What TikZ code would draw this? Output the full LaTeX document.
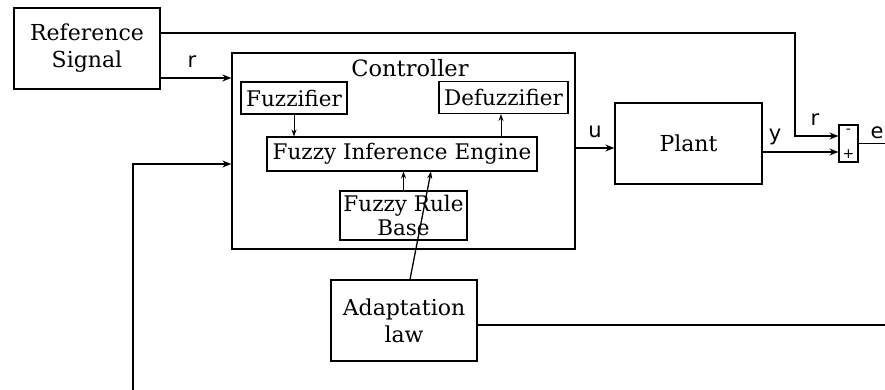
\documentclass[tikz,border=0pt]{standalone}
\usepackage{fontspec}
\setmainfont{DejaVu Serif}
\newfontfamily\lblfont{DejaVu Sans}
\usetikzlibrary{arrows.meta,calc}
\begin{document}
\begin{tikzpicture}[x=1pt,y=-1pt,
  block/.style={draw,line width=1.3pt,inner sep=0pt,align=center,font=\fontsize{22}{27}\selectfont},
  inner/.style={draw,line width=1.1pt,inner sep=0pt,align=center,font=\fontsize{21.5}{24}\selectfont},
  sig/.style={line width=1.3pt,-{Stealth[length=9pt,width=7pt]}},
  isig/.style={line width=1pt,-{Stealth[length=7pt,width=5pt]}},
  wire/.style={line width=1.3pt},
  lbl/.style={font=\lblfont\fontsize{21}{21}\selectfont,inner sep=0pt},
  sgn/.style={font=\lblfont\fontsize{14}{14}\selectfont,inner sep=0pt}]
\useasboundingbox (0,0) rectangle (885,390);

% main blocks
\node[block,minimum width=146pt,minimum height=81pt] (ref) at (87,48.5) {Reference\\Signal};
\node[block,minimum width=343pt,minimum height=196pt] (ctrl) at (403.5,151) {};
\node[font=\fontsize{22.5}{22.5}\selectfont,inner sep=0pt] (ctitle) at (410,68) {Controller};
\node[block,minimum width=147pt,minimum height=81pt] (plant) at (688.5,143.5) {Plant};
\node[block,minimum width=146pt,minimum height=81pt] (adapt) at (404,320.5) {Adaptation\\law};
\node[draw,line width=1.1pt,minimum width=19pt,minimum height=37pt,inner sep=0pt] (sum) at (848.5,143.5) {};
\node[sgn] (minus) at (848.5,131) {-};
\node[sgn] (plus) at (848.5,154) {+};

% controller internals
\node[inner,minimum width=106pt,minimum height=32pt] (fuzz) at (294,98) {Fuzzifier};
\node[inner,minimum width=129pt,minimum height=32pt] (defuzz) at (503.5,97.5) {Defuzzifier};
\node[inner,minimum width=270pt,minimum height=34pt] (fie) at (402,154) {Fuzzy Inference Engine};
\node[inner,minimum width=127pt,minimum height=49pt] (frb) at (403.5,215.5) {Fuzzy Rule\\Base};

% reference path to the comparator
\coordinate (rtop) at ([yshift=15.5pt]ref.east);
\coordinate (rbend) at (795,33);
\coordinate (sumr) at ([yshift=7.5pt]sum.west);
\draw[sig] (rtop) -- (rbend) |- (sumr);

% reference into controller
\coordinate (rin) at ([yshift=-29.5pt]ref.east);
\draw[sig] (rin) -- (rin -| ctrl.west);

% feedback into controller
\coordinate (fb) at (133,390);
\coordinate (fbin) at ([yshift=-13pt]ctrl.west);
\draw[sig] (fb) |- (fbin);

% control signal to plant
\coordinate (uout) at ([yshift=3pt]ctrl.east);
\draw[sig] (uout) -- (uout -| plant.west);

% plant output to comparator
\coordinate (sumy) at ([yshift=-8.5pt]sum.west);
\draw[sig] (sumy -| plant.east) -- (sumy);

% error output
\coordinate (eout) at (885,143.5);
\draw[wire] (sum.east) -- (eout);

% adaptation law output
\coordinate (aout) at ([yshift=-4.5pt]adapt.east);
\coordinate (aend) at (885,325);
\draw[wire] (aout) -- (aend);

% adaptation acting on the inference engine
\draw[isig,line width=1.3pt] ([xshift=6pt]adapt.north) -- ([xshift=29pt]fie.south);

% internal signal flow
\draw[isig] (fuzz.south) -- (fuzz.south |- fie.north);
\draw[isig] ([xshift=-2.5pt]fie.north -| defuzz.south) -- ([xshift=-2.5pt]defuzz.south);
\draw[isig] (frb.north) -- (frb.north |- fie.south);

% signal labels
\node[lbl] (lr) at (192,62) {r};
\node[lbl] (lu) at (595,132) {u};
\node[lbl] (ly) at (775,137) {y};
\node[lbl] (lr2) at (815,120) {r};
\node[lbl] (le) at (877,133) {e};
\end{tikzpicture}
\end{document}
